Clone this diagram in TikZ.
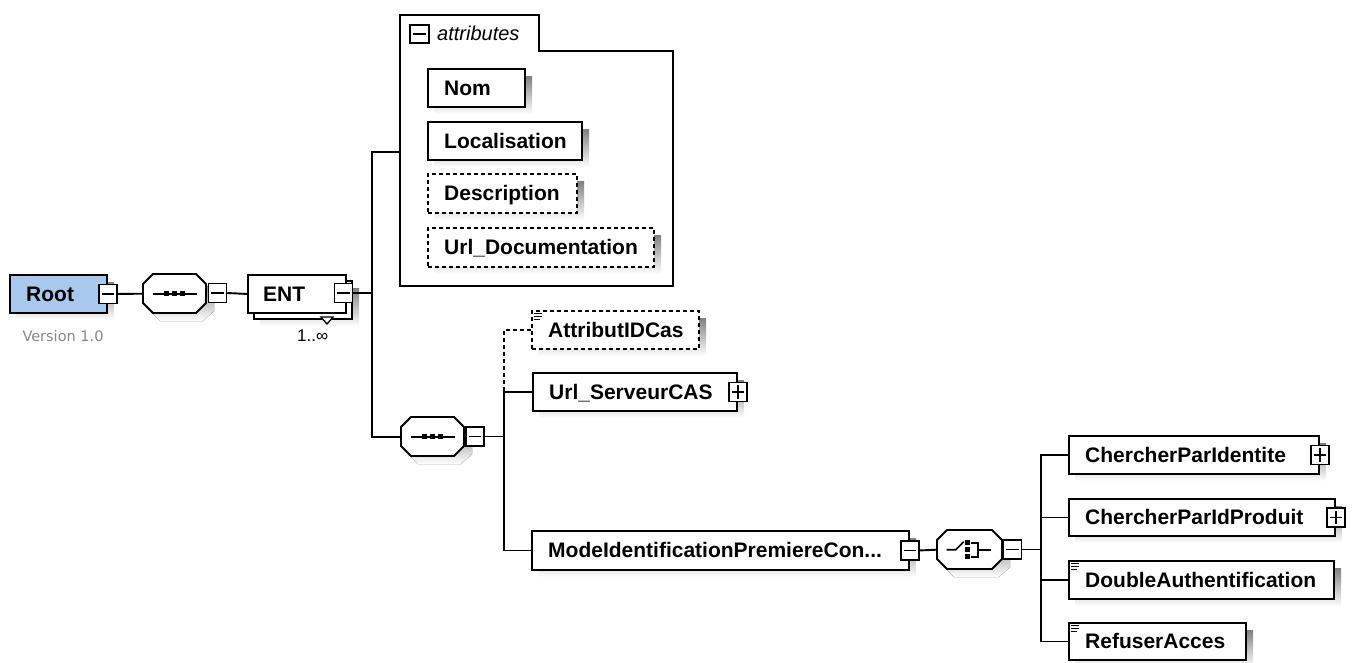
\documentclass[tikz,border=0pt]{standalone}
\usepackage{fontspec}
\setmainfont{Liberation Sans}
\newfontfamily\verfont{DejaVu Sans}
\usetikzlibrary{calc}
\definecolor{rootblue}{RGB}{168,200,238}
\definecolor{shade}{RGB}{188,188,188}
\definecolor{vergray}{RGB}{135,135,135}
\tikzset{
  box/.style={draw=black, fill=white, line width=1.9pt, inner sep=0pt},
  optbox/.style={box, dash pattern=on 4pt off 3pt},
  rootbox/.style={box, fill=rootblue},
  lbl/.style={font=\fontsize{21}{24}\bfseries\selectfont, text=black, inner sep=0pt, anchor=base west},
  conn/.style={line width=1.9pt},
  dconn/.style={line width=1.9pt, dash pattern=on 4pt off 3pt},
  btn/.style={draw, fill=white, line width=1.5pt, minimum width=18pt, minimum height=19pt, inner sep=0pt},
  sym/.style={line width=1.6pt},
}
% optional style, name, x1, y1, x2, y2, text
\newcommand\Elem[7][box]{%
  \fill[shade] (#3+7,#4+8) rectangle (#5+8,#6+8);
  \node[#1, minimum width={#5-#3}, minimum height={#6-#4}, anchor=north west] (#2) at (#3,#4) {};
  \node[lbl] (#2-t) at ([xshift=17pt,yshift=-7.5pt]#2.west) {#7};
}
\newcommand\MinusBtn[2]{%
  \node[btn] (#1) at (#2) {};
  \draw[line width=1.5pt] ([xshift=3.5pt]#1.west) -- ([xshift=-3.5pt]#1.east);
}
\newcommand\PlusBtn[2]{%
  \node[btn] (#1) at (#2) {};
  \draw[line width=1.5pt] ([xshift=3.5pt]#1.west) -- ([xshift=-3.5pt]#1.east)
    ([yshift=-3.5pt]#1.north) -- ([yshift=3.5pt]#1.south);
}
% name x1 y1 x2 y2
\newcommand\Oct[5]{%
  \fill[shade] (#2+17,#3+8) -- (#4-3,#3+8) -- (#4+8,#3+18) -- (#4+8,#5-2) -- (#4-3,#5+8) -- (#2+17,#5+8) -- (#2+7,#5-2) -- (#2+7,#3+18) -- cycle;
  \draw[box] (#2+10,#3) -- (#4-10,#3) -- (#4,#3+10) -- (#4,#5-10) -- (#4-10,#5) -- (#2+10,#5) -- (#2,#5-10) -- (#2,#3+10) -- cycle;
  \node[minimum width={#4-#2}, minimum height={#5-#3}, inner sep=0pt, anchor=north west] (#1) at (#2,#3) {};
}
\newcommand\SeqSym[1]{%
  \draw[sym] ([xshift=10pt]#1.west) -- ([xshift=-9pt]#1.east);
  \foreach \dx in {-8,0,8} {\fill ($(#1.center)+(\dx,0)$) +(-2.6,-2.6) rectangle +(2.6,2.6);}
}
\newcommand\DocIcon[1]{%
  \draw[line width=1.1pt] ([shift={(3,3.5)}]#1.north west) -- +(8,0)
    ([shift={(3,6.3)}]#1.north west) -- +(8,0)
    ([shift={(3,9.1)}]#1.north west) -- +(6,0);
}
\begin{document}
\begin{tikzpicture}[x=1pt,y=-1pt]
\useasboundingbox[fill=white] (0,0) rectangle (1353,662);

% Root
\Elem[rootbox]{root}{9}{274}{106}{312}{Root}
\MinusBtn{rootbtn}{root.east}
\node[font=\verfont\fontsize{14.5}{17}\selectfont, text=vergray, anchor=base, inner sep=0pt] (ver) at (63,341.5) {Version 1.0};

% first sequence
\Oct{seq1}{143}{274}{206}{313}
\SeqSym{seq1}
\MinusBtn{seq1btn}{217.5,293}

% ENT (repeating element)
\fill[shade] (260,288) rectangle (359,326);
\node[box, minimum width=98, minimum height=38, anchor=north west] (entback) at (253,280) {};
\node[box, minimum width=98, minimum height=38, anchor=north west] (ent) at (247,274) {};
\node[lbl] (ent-t) at ([xshift=16pt,yshift=-7.5pt]ent.west) {ENT};
\draw[line width=1.3pt, fill=white] (321,317) -- (333,317) -- (327,324) -- cycle;
\MinusBtn{entbtn}{343.5,293}
\node[font=\fontsize{17}{20}\selectfont, anchor=base west, inner sep=0pt] (occ) at (297,341.5) {1..∞};

% attributes
\draw[box] (400,286) -- (400,15) -- (539,15) -- (539,51) -- (673,51) -- (673,286) -- cycle;
\node[btn, minimum width=19pt, minimum height=18pt] (attrbtn) at (419.5,34) {};
\draw[line width=1.5pt] ([xshift=3.5pt]attrbtn.west) -- ([xshift=-3.5pt]attrbtn.east);
\node[font=\fontsize{20}{24}\itshape\selectfont, anchor=base west, inner sep=0pt] (attrlbl) at (437,40.5) {attributes};
\Elem{nom}{427}{68}{524}{106}{Nom}
\Elem{loc}{427}{121}{581}{159}{Localisation}
\Elem[optbox]{desc}{427}{173}{576}{212}{Description}
\Elem[optbox]{urldoc}{427}{227}{653}{266}{Url\_Documentation}
\coordinate (attrin) at (400,152);

% connectors from ENT
\draw[conn] (rootbtn.east) -- (seq1.west);
\draw[conn] (seq1btn.east) -- (ent.west);
\coordinate (j1) at (372,293);
\draw[conn] (entbtn.east) -- (j1);

% second sequence
\Oct{seq2}{401}{417}{464}{456}
\SeqSym{seq2}
\MinusBtn{seq2btn}{475,436.5}
\draw[conn] (attrin) -| (j1) |- (seq2.west);

\Elem[optbox]{attid}{531}{310}{698}{348}{AttributIDCas}
\DocIcon{attid}
\Elem{url}{532}{372}{736}{410}{Url\_ServeurCAS}
\PlusBtn{urlbtn}{url.east}
\Elem{mode}{531}{530}{908}{569}{ModeIdentificationPremiereCon...}
\MinusBtn{modebtn}{mode.east}

\coordinate (j2) at (504,436.5);
\draw[conn] (seq2btn.east) -- (j2);
\draw[conn] (url.west) -| (j2) |- (mode.west);
\draw[dconn] (attid.west) -| (url.west -| j2);

% choice
\Oct{choice}{937}{530}{1002}{569}
\begin{scope}[shift={(choice.center)}]
  \draw[sym] (-23,0) -- (-14,0) -- (-6,-8);
  \foreach \dy in {-7,0,7} {\fill (-2.5,\dy) +(-2.4,-2.4) rectangle +(2.4,2.4);}
  \draw[sym] (1.5,-7) -- (8,-7) -- (8,7) -- (1.5,7) (8,0) -- (21,0);
\end{scope}
\MinusBtn{choicebtn}{1012.5,549.5}
\draw[conn] (modebtn.east) -- (choice.west);
\coordinate (j3) at (1041,549.5);
\draw[conn] (choicebtn.east) -- (j3);

\Elem{c1}{1068}{435}{1318}{473}{ChercherParIdentite}
\PlusBtn{c1btn}{c1.east}
\Elem{c2}{1068}{498}{1334}{535}{ChercherParIdProduit}
\PlusBtn{c2btn}{c2.east}
\Elem{c3}{1068}{560}{1333}{598}{DoubleAuthentification}
\DocIcon{c3}
\Elem{c4}{1068}{622}{1245}{659}{RefuserAcces}
\DocIcon{c4}

\draw[conn] (c1.west) -| (j3) |- (c4.west);
\draw[conn] (c2.west) -- (c2.west -| j3);
\draw[conn] (c3.west) -- (c3.west -| j3);
\end{tikzpicture}
\end{document}
